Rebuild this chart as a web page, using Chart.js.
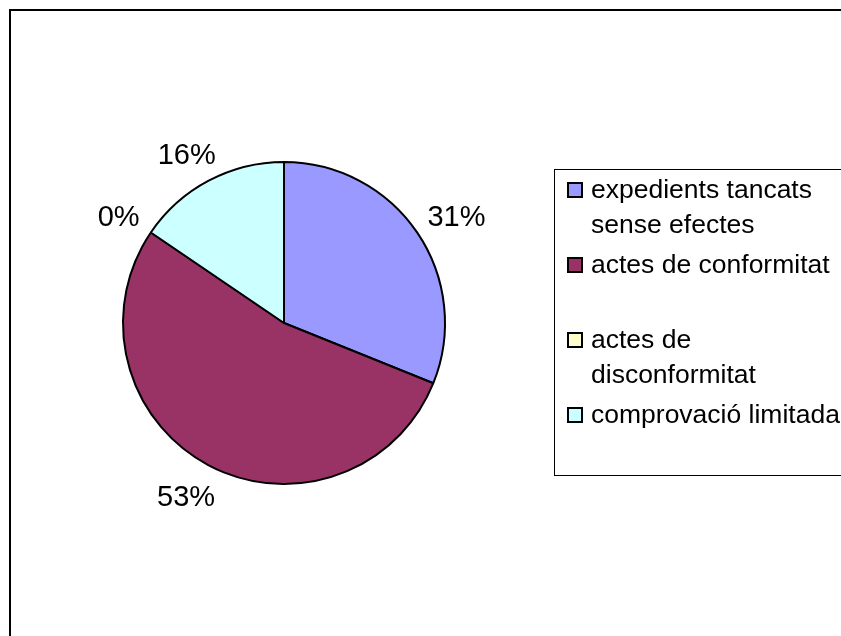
<!DOCTYPE html>
<html><head><meta charset="utf-8">
<script src="https://cdn.jsdelivr.net/npm/chart.js@4/dist/chart.umd.min.js"></script>
<style>html,body{margin:0;padding:0;background:#fff;overflow:hidden}#wrap{width:841px;height:636px;position:relative}</style>
</head><body><div id="wrap"><canvas id="c" width="841" height="636"></canvas></div>
<script>
const categories = ["expedients tancats sense efectes", "actes de conformitat", "actes de disconformitat", "comprovació limitada"];
const legendLines = [["expedients tancats", "sense efectes"], ["actes de conformitat"], ["actes de", "disconformitat"], ["comprovació limitada"]];
const values = [31.1, 53.4, 0, 15.5];
const colors = ["#9999FF", "#993366", "#FFFFCC", "#CCFFFF"];

const FONT = "'Liberation Sans', Arial, sans-serif";

const framePlugin = {
  id: 'frame',
  beforeDraw(chart) {
    const ctx = chart.ctx;
    ctx.save();
    ctx.fillStyle = '#fff';
    ctx.fillRect(0, 0, chart.width, chart.height);
    ctx.strokeStyle = '#000';
    ctx.lineWidth = 2;
    ctx.strokeRect(10, 10, 1200, 1200);
    ctx.restore();
  }
};

const labelPlugin = {
  id: 'pctLabels',
  afterDatasetsDraw(chart) {
    const ctx = chart.ctx;
    const meta = chart.getDatasetMeta(0);
    const total = values.reduce((a, b) => a + b, 0);
    ctx.save();
    ctx.font = "29px " + FONT;
    ctx.fillStyle = '#000';
    ctx.textAlign = 'center';
    ctx.textBaseline = 'middle';
    meta.data.forEach((arc, i) => {
      const p = arc.getProps(['x', 'y', 'startAngle', 'endAngle', 'outerRadius'], true);
      const mid = (p.startAngle + p.endAngle) / 2;
      const txt = Math.round(values[i] / total * 100) + '%';
      const w = ctx.measureText(txt).width;
      const d = p.outerRadius + 18;
      const x = p.x + Math.cos(mid) * (d + w / 2);
      const y = p.y + Math.sin(mid) * (d + 15) + 4;
      ctx.fillText(txt, x, y);
    });
    ctx.restore();
  }
};

const legendPlugin = {
  id: 'boxLegend',
  afterDraw(chart) {
    const ctx = chart.ctx;
    ctx.save();
    ctx.strokeStyle = '#000';
    ctx.lineWidth = 1;
    ctx.strokeRect(554.5, 169.5, 400, 306);
    ctx.font = "26.5px " + FONT;
    ctx.textBaseline = 'middle';
    ctx.textAlign = 'left';
    let y = 190;
    legendLines.forEach((lines, i) => {
      ctx.fillStyle = colors[i];
      ctx.fillRect(568, y - 7, 14, 14);
      ctx.lineWidth = 2;
      ctx.strokeStyle = '#000';
      ctx.strokeRect(568, y - 7, 14, 14);
      ctx.fillStyle = '#000';
      lines.forEach((t, j) => ctx.fillText(t, 591, y + 1 + j * 35));
      y += 75;
    });
    ctx.restore();
  }
};

new Chart(document.getElementById('c'), {
  type: 'pie',
  data: {
    labels: categories,
    datasets: [{
      data: values,
      backgroundColor: colors,
      borderColor: '#000',
      borderWidth: 2,
      borderAlign: 'center'
    }]
  },
  options: {
    responsive: false,
    animation: false,
    devicePixelRatio: 1,
    layout: { padding: { left: 122, right: 395, top: 161, bottom: 151 } },
    plugins: { legend: { display: false }, tooltip: { enabled: false } }
  },
  plugins: [framePlugin, labelPlugin, legendPlugin]
});
</script>
</body></html>
